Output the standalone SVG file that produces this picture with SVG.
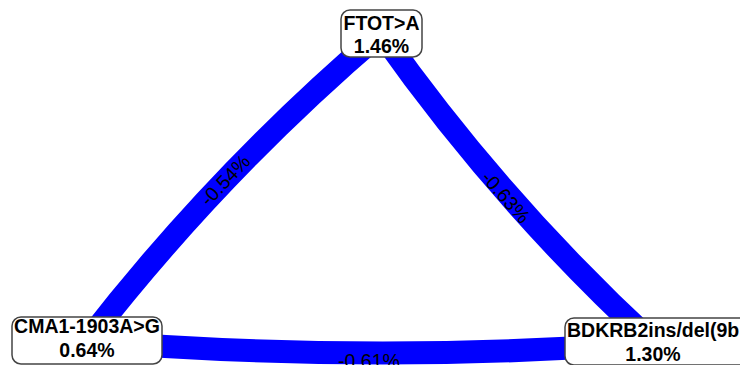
<svg xmlns="http://www.w3.org/2000/svg" width="740" height="365" viewBox="0 0 740 365">
<style>
.edge{fill:none;stroke:#0000FF;stroke-width:23}
.elab{font-family:"Liberation Sans",Arial,sans-serif;font-size:19.5px;fill:#000;text-anchor:middle}
.box{fill:#fff;stroke:#444;stroke-width:1.5}
.nlab{font-family:"Liberation Sans",Arial,sans-serif;font-size:19.5px;font-weight:bold;fill:#000;text-anchor:middle}
</style>
<rect width="740" height="365" fill="#fff"/>
<g id="connectors">
<path class="edge" d="M381,33 Q218,172 87,341"/>
<path class="edge" d="M381,33 Q500,202 653,343"/>
<path class="edge" d="M87,341 Q370,364 653,343"/>
<text class="elab" transform="translate(225,180) rotate(-46.3)" y="7">-0.54%</text>
<text class="elab" transform="translate(506,197) rotate(48.6)" y="7">-0.63%</text>
<text class="elab" x="369" y="368">-0.61%</text>
</g>
<g id="node-ftot">
<rect class="box" x="341" y="10" width="81" height="47" rx="9"/>
<text class="nlab" x="381.5" y="30">FTOT&gt;A</text>
<text class="nlab" x="381.5" y="53">1.46%</text>
</g>
<g id="node-cma1">
<rect class="box" x="12" y="317" width="150" height="47" rx="9"/>
<text class="nlab" x="87" y="333">CMA1-1903A&gt;G</text>
<text class="nlab" x="87" y="357">0.64%</text>
</g>
<g id="node-bdkrb2">
<rect class="box" x="565" y="318" width="190" height="47" rx="9"/>
<text class="nlab" x="567" y="337" style="text-anchor:start">BDKRB2ins/del(9b</text>
<text class="nlab" x="653" y="361">1.30%</text>
</g>
</svg>
